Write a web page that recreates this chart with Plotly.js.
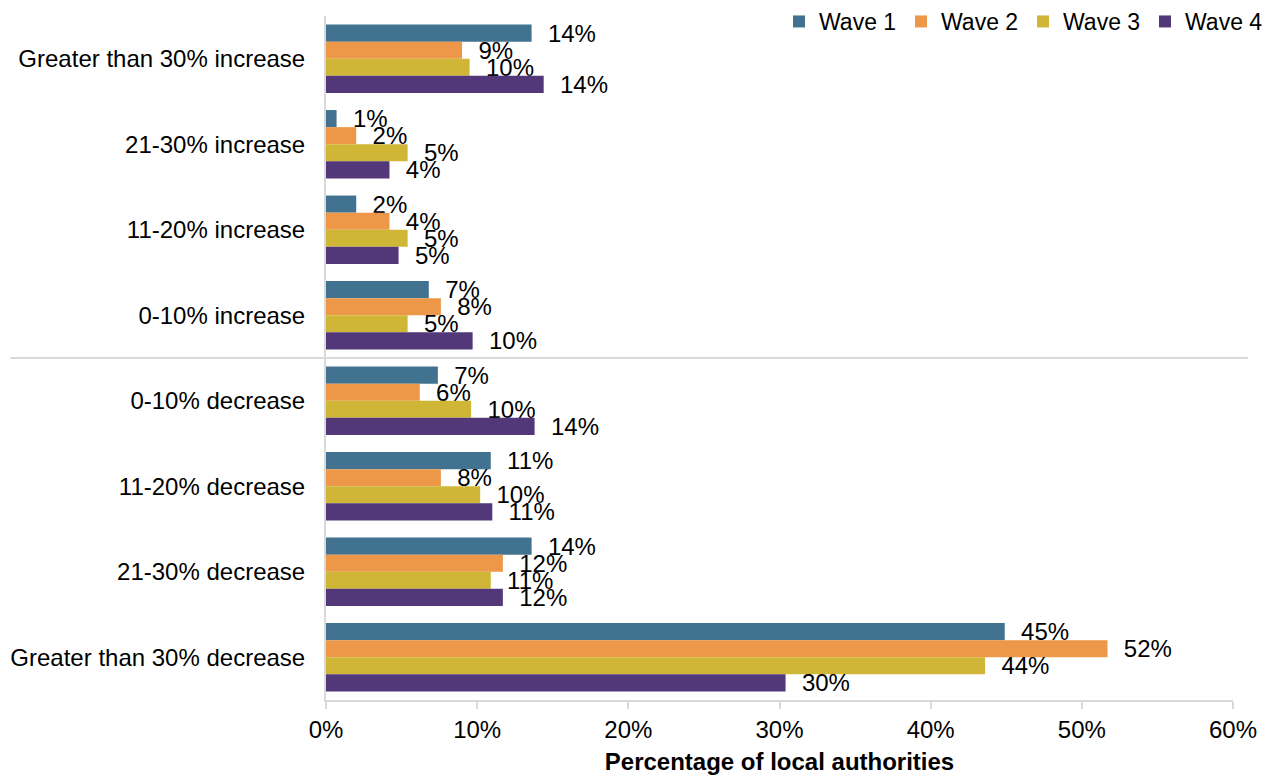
<!DOCTYPE html>
<html>
<head>
<meta charset="utf-8">
<script src="https://cdn.plot.ly/plotly-3.0.1.min.js"></script>
<style>html,body{margin:0;padding:0;background:#fff;}#chart{width:1273px;height:775px;}</style>
</head>
<body>
<div id="chart"></div>
<script>
const categories = [
  "Greater than 30% increase",
  "21-30% increase",
  "11-20% increase",
  "0-10% increase",
  "0-10% decrease",
  "11-20% decrease",
  "21-30% decrease",
  "Greater than 30% decrease"
];
const seriesNames = ["Wave 1", "Wave 2", "Wave 3", "Wave 4"];
const wave1 = [13.6, 0.7, 2.0, 6.8, 7.4, 10.9, 13.6, 44.9];
const wave2 = [9.0, 2.0, 4.2, 7.6, 6.2, 7.6, 11.7, 51.7];
const wave3 = [9.5, 5.4, 5.4, 5.4, 9.6, 10.2, 10.9, 43.6];
const wave4 = [14.4, 4.2, 4.8, 9.7, 13.8, 11.0, 11.7, 30.4];
const colors = ["#41728F", "#ED9749", "#CFB636", "#523878"];
const xTickVals = [0, 10, 20, 30, 40, 50, 60];
const xTickText = ["0%", "10%", "20%", "30%", "40%", "50%", "60%"];

const FONT = "Arial, 'Liberation Sans', sans-serif";
const FS = 24;
const values = [wave1, wave2, wave3, wave4];
const traces = values.map((v, i) => ({
  type: "bar",
  orientation: "h",
  name: seriesNames[i],
  y: categories,
  x: v,
  marker: {color: colors[i]},
  texttemplate: "\u00a0\u00a0%{x:.0f}%",
  textposition: "outside",
  constraintext: "none",
  cliponaxis: false,
  textfont: {family: FONT, size: FS, color: "#000"},
  hoverinfo: "x+y+name"
}));

const layout = {
  width: 1273,
  height: 775,
  margin: {l: 326, r: 40, t: 0, b: 75},
  paper_bgcolor: "#fff",
  plot_bgcolor: "#fff",
  barmode: "group",
  bargap: 0.2,
  bargroupgap: 0,
  font: {family: FONT, size: FS, color: "#000"},
  showlegend: true,
  legend: {
    orientation: "h",
    x: 1.0375, xanchor: "right",
    y: 1.0, yanchor: "top",
    font: {family: FONT, size: 23, color: "#000"},
    bgcolor: "rgba(0,0,0,0)",
    traceorder: "normal",
    itemwidth: 30,
    entrywidth: 77,
    entrywidthmode: "pixels"
  },
  xaxis: {
    range: [0, 60],
    tickvals: xTickVals,
    ticktext: xTickText,
    showgrid: false,
    zeroline: false,
    showline: true,
    linecolor: "#D9D9D9",
    linewidth: 2,
    ticks: "outside",
    ticklen: 7,
    tickwidth: 2,
    tickcolor: "#D9D9D9",
    tickfont: {family: FONT, size: FS, color: "#000"},
    automargin: false,
    title: {text: "<b>Percentage of local authorities</b>", font: {family: FONT, size: FS, color: "#000"}, standoff: 12}
  },
  yaxis: {
    domain: [0, 0.97714],
    autorange: "reversed",
    showgrid: false,
    zeroline: false,
    showline: true,
    linecolor: "#D9D9D9",
    linewidth: 2,
    ticks: "",
    automargin: false,
    ticklabelstandoff: 14,
    tickfont: {family: FONT, size: FS, color: "#000"}
  },
  shapes: [{
    type: "line",
    xref: "paper", yref: "y",
    x0: -0.348, x1: 1.0165,
    y0: 3.5, y1: 3.5,
    line: {color: "#D9D9D9", width: 2}
  }]
};

Plotly.newPlot("chart", traces, layout, {displayModeBar: false, staticPlot: true});
</script>
</body>
</html>
